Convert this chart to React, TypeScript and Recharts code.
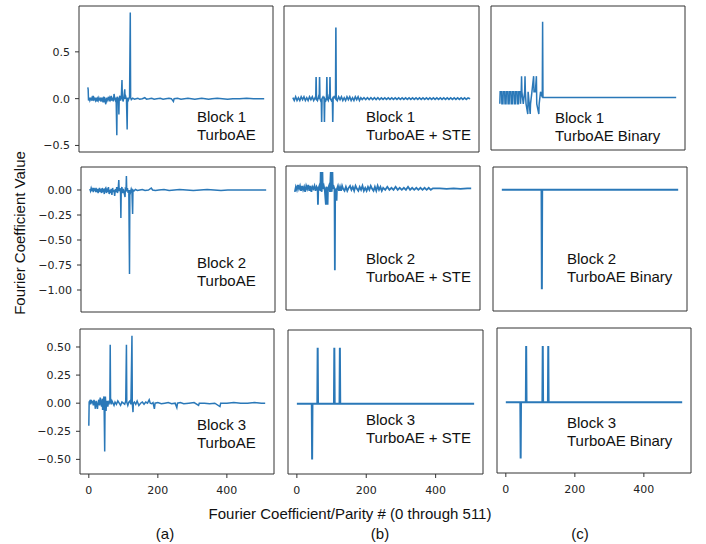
import { LineChart, Line, XAxis, YAxis, ReferenceArea } from "recharts"

type Pt = [number, number]

// x range of every panel (matplotlib default 5% margin around 0..511)
const xDomain: [number, number] = [-25.55, 536.55]
const xTicks = [0, 200, 400]

const row1Domain: [number, number] = [-0.57, 0.99]
const row2Domain: [number, number] = [-1.22, 0.23]
const row3Domain: [number, number] = [-0.63, 0.66]
const row1Ticks = [-0.5, 0, 0.5]
const row2Ticks = [-1, -0.75, -0.5, -0.25, 0]
const row3Ticks = [-0.5, -0.25, 0, 0.25, 0.5]

const block1TurboAE: Pt[] = [
  [0, 0.12], [1, 0.1], [2, -0.02], [4, 0.01], [6, -0.02], [8, 0], [10, -0.01], [12, 0.01], [14, -0.02], [16, 0.03],
  [18, -0.01], [20, 0], [22, -0.02], [24, 0.01], [26, -0.03], [28, 0], [30, -0.02], [32, 0.01], [34, -0.01], [36, 0],
  [38, -0.03], [40, 0.01], [42, -0.02], [44, 0], [46, -0.04], [48, 0.02], [50, -0.02], [52, -0.06], [54, 0.01], [56, -0.02],
  [58, 0], [60, 0.02], [62, -0.03], [64, 0.01], [66, -0.01], [68, 0.03], [70, -0.02], [72, 0.01], [74, -0.03], [76, 0.05],
  [78, 0], [80, -0.02], [82, 0.01], [84, -0.39], [85, 0.02], [87, -0.01], [89, 0], [90, -0.17], [91, 0.01], [93, 0.03],
  [95, -0.02], [97, 0.01], [99, 0.2], [100, 0.02], [102, -0.03], [104, 0], [107, 0.1], [108, 0], [110, 0.02], [112, -0.01],
  [114, -0.33], [115, 0.01], [117, -0.02], [119, 0], [121, 0.02], [123, 0.92], [124, 0.01], [126, -0.01], [130, 0.005], [135, -0.005],
  [140, 0], [145, 0.005], [150, -0.005], [158, 0], [165, 0.01], [170, -0.005], [178, 0], [185, 0.005], [192, -0.005], [200, 0],
  [210, 0.005], [218, -0.005], [226, 0], [235, 0.005], [242, 0], [248, -0.03], [250, 0], [260, 0.005], [270, -0.005], [280, 0],
  [290, 0.005], [300, 0], [310, -0.005], [320, 0], [330, 0.005], [340, 0], [350, -0.005], [360, 0], [375, 0.005], [390, 0],
  [405, -0.005], [420, 0], [440, 0], [460, 0.005], [480, 0], [500, 0], [511, 0],
]

const block2TurboAE: Pt[] = [
  [0, 0.01], [2, -0.01], [4, 0.02], [6, 0], [8, 0.01], [10, -0.02], [12, 0.02], [14, 0], [16, -0.01], [18, 0.02],
  [20, -0.02], [22, 0.01], [24, -0.03], [26, 0], [28, 0.02], [30, -0.02], [32, 0.01], [34, -0.03], [36, 0.02], [38, -0.01],
  [40, 0], [42, -0.04], [44, 0.01], [46, 0.02], [48, -0.03], [50, 0], [52, -0.02], [54, 0.03], [56, -0.04], [58, 0],
  [60, -0.03], [62, 0.01], [64, -0.05], [66, 0.02], [68, -0.02], [70, 0], [72, -0.06], [74, 0.01], [76, -0.02], [78, 0.03],
  [80, -0.03], [82, 0], [84, 0.1], [85, -0.01], [87, 0.02], [89, -0.03], [90, -0.28], [91, 0], [93, 0.03], [95, -0.03],
  [97, 0.01], [99, -0.02], [102, -0.07], [103, 0.01], [105, 0], [106, 0.14], [107, -0.01], [109, 0.02], [111, -0.03], [113, 0],
  [115, -0.84], [116, 0], [118, -0.02], [120, 0.01], [122, -0.01], [124, -0.24], [125, 0], [128, -0.01], [132, 0.005], [138, -0.005],
  [145, 0], [152, 0.005], [160, -0.005], [170, 0], [178, 0.02], [182, 0], [190, -0.005], [200, 0], [215, 0.005], [230, -0.005],
  [245, 0], [260, 0.005], [280, 0], [300, -0.005], [320, 0], [340, 0.005], [360, 0], [380, -0.005], [400, 0], [430, 0],
  [460, 0], [490, 0], [511, 0],
]

const block3TurboAE: Pt[] = [
  [0, -0.2], [1, 0.01], [3, 0.02], [5, -0.01], [7, 0.03], [9, 0], [11, 0.02], [13, -0.02], [15, 0.03], [17, 0],
  [19, -0.05], [21, 0.02], [23, -0.01], [25, -0.05], [27, 0.01], [29, 0.03], [31, -0.02], [33, 0.05], [35, 0], [37, -0.03],
  [39, 0.04], [40, -0.06], [42, 0.02], [44, 0.06], [46, -0.43], [47, 0], [48, 0.06], [49, 0], [50, -0.07], [51, -0.01],
  [53, 0.02], [55, -0.03], [57, 0.01], [59, 0], [61, 0.02], [62, 0.52], [63, 0.01], [65, -0.01], [67, 0.02], [70, 0],
  [73, -0.02], [76, 0.01], [80, -0.01], [84, 0.02], [88, 0], [92, -0.02], [96, 0.01], [100, 0], [104, -0.01], [107, 0.02],
  [109, 0.52], [110, 0.01], [113, -0.02], [116, 0.01], [119, 0.02], [122, -0.01], [125, 0.6], [126, 0], [128, -0.08], [129, 0],
  [132, 0.01], [136, -0.01], [140, 0.02], [145, -0.02], [150, 0], [155, 0.01], [160, -0.01], [165, 0.01], [170, 0], [175, 0.03],
  [178, 0], [182, -0.005], [186, 0.005], [190, -0.05], [192, 0], [200, 0.005], [210, -0.005], [220, 0], [230, 0.005], [240, -0.005],
  [250, 0], [255, -0.04], [257, 0], [265, 0.005], [275, -0.005], [290, 0], [305, 0.005], [318, -0.02], [320, 0], [335, 0],
  [350, -0.005], [365, 0], [380, -0.03], [382, 0], [400, 0], [420, 0.005], [440, 0], [460, 0], [480, 0.005], [500, 0], [511, 0],
]

const block1STE: Pt[] = [
  [0, 0.01], [4, -0.02], [8, 0.02], [12, -0.02], [16, 0.01], [20, -0.02], [24, 0.02], [28, -0.01], [32, 0.02], [36, -0.02],
  [40, 0.01], [44, -0.02], [48, 0.02], [52, -0.01], [56, 0.02], [60, -0.02], [64, 0.01], [66, 0], [67, 0.23], [68, 0],
  [71, -0.02], [74, 0.02], [76, 0], [77, 0.23], [78, 0], [80, -0.02], [82, 0], [83, -0.25], [84, 0], [87, 0.02],
  [90, 0], [91, -0.25], [92, 0], [95, -0.02], [97, 0], [98, 0.23], [99, 0], [102, -0.02], [104, 0.02], [106, 0],
  [107, 0.23], [108, 0], [111, -0.02], [114, 0], [115, -0.25], [116, 0], [119, 0.02], [123, 0], [124, 0.76], [125, 0],
  [128, -0.02], [132, 0.02], [136, -0.01], [140, 0.02], [144, -0.02], [148, 0.01], [152, -0.02], [156, 0.02], [160, -0.01], [164, 0.02],
  [168, -0.02], [172, 0.01], [176, -0.02], [180, 0.02], [184, -0.01], [188, 0.02], [192, -0.02], [196, 0.01], [200, -0.01], [205, 0.01],
  [210, -0.01], [215, 0.01], [220, -0.01], [225, 0.01], [230, -0.01], [235, 0.01], [240, -0.01], [245, 0.01], [250, -0.01], [255, 0.008],
  [260, -0.008], [265, 0.008], [270, -0.008], [275, 0.008], [280, -0.008], [285, 0.008], [290, -0.008], [295, 0.008], [300, -0.008], [305, 0.008],
  [310, -0.008], [315, 0.008], [320, -0.008], [325, 0.008], [330, -0.008], [335, 0.008], [340, -0.008], [345, 0.008], [350, -0.008], [355, 0.008],
  [360, -0.008], [365, 0.008], [370, -0.008], [375, 0.008], [380, -0.008], [385, 0.008], [390, -0.008], [395, 0.008], [400, -0.008], [405, 0.008],
  [410, -0.008], [415, 0.008], [420, -0.008], [425, 0.008], [430, -0.008], [435, 0.008], [440, -0.008], [445, 0.008], [450, -0.008], [455, 0.008],
  [460, -0.008], [465, 0.008], [470, -0.008], [475, 0.008], [480, -0.008], [485, 0.008], [490, -0.008], [495, 0.008], [500, -0.008], [505, 0.008],
  [511, 0],
]

const block2STE: Pt[] = [
  [0, -0.03], [3, 0.02], [6, -0.01], [9, 0.04], [12, 0], [15, 0.03], [18, -0.02], [21, 0.03], [24, -0.01], [27, 0.02],
  [30, -0.03], [33, 0.03], [36, 0], [39, 0.04], [42, -0.02], [45, 0.03], [48, -0.03], [51, 0.02], [54, 0], [57, 0.03],
  [60, -0.02], [63, 0.02], [66, 0], [67, -0.16], [68, 0], [71, 0.03], [74, -0.02], [75, 0.17], [76, 0], [78, -0.03],
  [80, 0.17], [81, 0], [84, 0.03], [87, -0.02], [90, -0.16], [91, 0.02], [94, 0], [95, -0.16], [96, 0], [99, 0.03],
  [102, -0.03], [104, 0.17], [105, 0], [107, -0.03], [109, 0.17], [110, 0], [113, 0.02], [115, 0], [116, -0.82], [117, 0],
  [119, -0.02], [121, -0.12], [122, 0], [125, 0.03], [128, -0.02], [131, 0.02], [134, -0.02], [137, 0.03], [140, 0], [144, -0.02],
  [148, 0.02], [152, -0.02], [156, 0.01], [160, 0.03], [164, -0.01], [168, 0.02], [172, -0.02], [176, 0.03], [180, 0], [184, -0.02],
  [188, 0.02], [192, -0.01], [196, 0.03], [200, -0.02], [204, 0.01], [208, -0.02], [212, 0.02], [216, -0.01], [220, 0.03], [224, 0],
  [228, -0.02], [232, 0.02], [236, -0.02], [240, 0.03], [244, -0.01], [248, 0.02], [252, -0.02], [256, 0.01], [262, -0.01], [268, 0.02],
  [274, -0.01], [280, 0.01], [286, -0.01], [292, 0.02], [298, -0.01], [304, 0.01], [310, -0.01], [316, 0.01], [322, -0.01], [328, 0.02],
  [334, -0.01], [340, 0.01], [346, -0.01], [352, 0.01], [358, -0.01], [364, 0.01], [370, -0.01], [376, 0.01], [382, -0.01], [388, 0.01],
  [394, -0.01], [400, 0.005], [420, 0.005], [440, 0], [460, 0.005], [480, 0], [500, 0.005], [511, 0.005],
]

const block3STE: Pt[] = [
  [0, 0], [43, 0], [44, -0.5], [45, 0], [59, 0], [60, 0.5], [61, 0], [107, 0], [108, 0.5], [109, 0],
  [123, 0], [124, 0.5], [125, 0], [511, 0],
]

const block1Binary: Pt[] = [
  [0, -0.07], [1, 0.06], [5, 0.06], [6, -0.07], [9, -0.07], [10, 0.06], [14, 0.06], [15, -0.07], [18, -0.07], [19, 0.06],
  [23, 0.06], [24, -0.07], [27, -0.07], [28, 0.06], [32, 0.06], [33, -0.07], [36, -0.07], [37, 0.06], [41, 0.06], [42, -0.07],
  [45, -0.07], [46, 0.06], [50, 0.06], [51, -0.07], [54, -0.07], [55, 0.06], [59, 0.06], [60, -0.07], [62, 0.06], [63, 0.23],
  [64, 0.06], [68, -0.07], [72, 0.06], [73, 0.23], [74, 0.06], [76, -0.07], [81, -0.18], [82, 0.06], [88, -0.18], [89, -0.07],
  [93, 0.06], [98, 0.23], [99, 0.06], [103, 0.06], [106, 0.23], [107, -0.07], [113, -0.18], [114, -0.07], [118, 0.06], [123, 0],
  [124, 0.82], [125, 0], [511, 0],
]

const block2Binary: Pt[] = [[0, 0], [115, 0], [116, -1.0], [117, 0], [511, 0]]

const block3Binary: Pt[] = [
  [0, 0], [42, 0], [43, -0.5], [44, 0], [58, 0], [59, 0.5], [60, 0], [106, 0], [107, 0.5], [108, 0],
  [122, 0], [123, 0.5], [124, 0], [511, 0],
]

const blockNames = ["Block 1", "Block 2", "Block 3"]
const methodNames = ["TurboAE", "TurboAE + STE", "TurboAE Binary"]
const columnTags = ["(a)", "(b)", "(c)"]

const BLUE = "#2a78b8"
const SPINE = "#333"
const TICK_FONT = "'DejaVu Sans', sans-serif"
const TEXT_FONT = "'Liberation Sans', Arial, Helvetica, sans-serif"

interface PanelProps {
  box: [number, number, number, number] // left, top, right, bottom of the axes frame
  yDomain: [number, number]
  yTicks: number[]
  decimals: number
  data: Pt[]
  yLabels: boolean
  xLabels: boolean
  lines: string[]
  textAt: [number, number]
  strokeWidth: number
}

const fmt = (d: number) => (v: number) => v.toFixed(d).replace("-", "\u2212")

function Panel({ box, yDomain, yTicks, decimals, data, yLabels, xLabels, lines, textAt, strokeWidth }: PanelProps) {
  const [l, t, r, b] = box
  const YW = yLabels ? 52 : 8
  const XH = 26
  const PAD = 2
  const rows = data.map(([x, y]) => ({ x, y }))
  return (
    <>
      <div style={{ position: "absolute", left: l - YW, top: t - PAD }}>
        <LineChart
          width={r - l + YW + PAD}
          height={b - t + PAD + XH}
          data={rows}
          margin={{ top: PAD, right: PAD, bottom: 0, left: 0 }}
        >
          <XAxis
            type="number"
            dataKey="x"
            domain={xDomain}
            ticks={xTicks}
            allowDataOverflow
            height={XH}
            axisLine={false}
            tickSize={4}
            tickMargin={8}
            tickLine={{ stroke: SPINE }}
            tick={xLabels ? { fill: "#222", fontSize: 11, fontFamily: TICK_FONT } : false}
          />
          <YAxis
            type="number"
            domain={yDomain}
            ticks={yTicks}
            allowDataOverflow
            width={YW}
            axisLine={false}
            tickSize={4}
            tickMargin={5}
            tickLine={{ stroke: SPINE }}
            tickFormatter={fmt(decimals)}
            tick={yLabels ? { fill: "#222", fontSize: 11, fontFamily: TICK_FONT } : false}
          />
          <ReferenceArea
            x1={xDomain[0]}
            x2={xDomain[1]}
            y1={yDomain[0]}
            y2={yDomain[1]}
            fill="none"
            fillOpacity={0}
            stroke={SPINE}
            strokeWidth={1}
          />
          <Line
            type="linear"
            dataKey="y"
            stroke={BLUE}
            strokeWidth={strokeWidth}
            dot={false}
            isAnimationActive={false}
          />
        </LineChart>
      </div>
      <div
        style={{
          position: "absolute",
          left: textAt[0],
          top: textAt[1],
          fontFamily: TEXT_FONT,
          fontSize: 15,
          lineHeight: "18px",
          color: "#111",
          whiteSpace: "nowrap",
        }}
      >
        {lines.map((s) => (
          <div key={s}>{s}</div>
        ))}
      </div>
    </>
  )
}

const panels: PanelProps[] = [
  { box: [79, 6, 273, 152], yDomain: row1Domain, yTicks: row1Ticks, decimals: 1, data: block1TurboAE, yLabels: true, xLabels: false, lines: [blockNames[0], methodNames[0]], textAt: [197, 108], strokeWidth: 1.5 },
  { box: [284, 6, 479, 152], yDomain: row1Domain, yTicks: row1Ticks, decimals: 1, data: block1STE, yLabels: false, xLabels: false, lines: [blockNames[0], methodNames[1]], textAt: [366, 108], strokeWidth: 1.6 },
  { box: [491, 6, 685, 150], yDomain: row1Domain, yTicks: row1Ticks, decimals: 1, data: block1Binary, yLabels: false, xLabels: false, lines: [blockNames[0], methodNames[2]], textAt: [555, 109], strokeWidth: 1.5 },
  { box: [81, 167, 275, 312], yDomain: row2Domain, yTicks: row2Ticks, decimals: 2, data: block2TurboAE, yLabels: true, xLabels: false, lines: [blockNames[1], methodNames[0]], textAt: [197, 254], strokeWidth: 1.5 },
  { box: [286, 166, 480, 310], yDomain: row2Domain, yTicks: row2Ticks, decimals: 2, data: block2STE, yLabels: false, xLabels: false, lines: [blockNames[1], methodNames[1]], textAt: [366, 250], strokeWidth: 1.8 },
  { box: [493, 167, 687, 311], yDomain: row2Domain, yTicks: row2Ticks, decimals: 2, data: block2Binary, yLabels: false, xLabels: false, lines: [blockNames[1], methodNames[2]], textAt: [567, 250], strokeWidth: 2 },
  { box: [80, 329, 274, 474], yDomain: row3Domain, yTicks: row3Ticks, decimals: 2, data: block3TurboAE, yLabels: true, xLabels: true, lines: [blockNames[2], methodNames[0]], textAt: [197, 416], strokeWidth: 1.5 },
  { box: [288, 330, 483, 474], yDomain: row3Domain, yTicks: row3Ticks, decimals: 2, data: block3STE, yLabels: false, xLabels: true, lines: [blockNames[2], methodNames[1]], textAt: [366, 411], strokeWidth: 2 },
  { box: [497, 328, 691, 473], yDomain: row3Domain, yTicks: row3Ticks, decimals: 2, data: block3Binary, yLabels: false, xLabels: true, lines: [blockNames[2], methodNames[2]], textAt: [567, 414], strokeWidth: 2 },
]

const label = { position: "absolute" as const, fontFamily: TEXT_FONT, fontSize: 15, color: "#111", whiteSpace: "nowrap" as const }

export default function App() {
  return (
    <div style={{ position: "absolute", left: 0, top: 0, width: 706, height: 544, background: "#fff", overflow: "hidden" }}>
      {panels.map((p, i) => (
        <Panel key={i} {...p} />
      ))}
      <div style={{ ...label, left: 19, top: 233, transform: "translate(-50%, -50%) rotate(-90deg)" }}>
        Fourier Coefficient Value
      </div>
      <div style={{ ...label, left: 350, top: 513, transform: "translate(-50%, -50%)" }}>
        Fourier Coefficient/Parity # (0 through 511)
      </div>
      {columnTags.map((tag, i) => (
        <div key={tag} style={{ ...label, left: [165, 380, 580][i], top: 533, transform: "translate(-50%, -50%)" }}>
          {tag}
        </div>
      ))}
    </div>
  )
}
